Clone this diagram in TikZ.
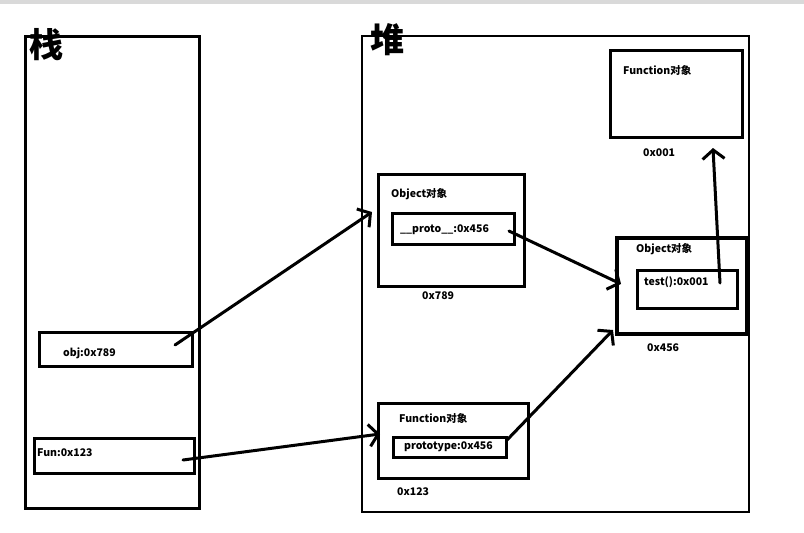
\documentclass[tikz,border=0pt]{standalone}
\usepackage{fontspec}
\setmainfont{Noto Sans CJK SC}
\usetikzlibrary{arrows.meta,calc,positioning}
\tikzset{frame/.style={draw, line width=3pt, anchor=north west, inner sep=0pt, outer sep=0pt},
  txt/.style={font=\bfseries\fontsize{10.5}{12}\selectfont, anchor=west, inner sep=0pt},
  title/.style={font=\bfseries\fontsize{34}{36}\selectfont, inner sep=0pt},
  ptr/.style={line width=3pt, line cap=round, -{Straight Barb[length=9pt,width=22pt]}}}

\begin{document}
\begin{tikzpicture}[x=1pt,y=-1pt]
    \useasboundingbox (0,0) rectangle (804,533);
    \fill[black!15] (0,0) rectangle (804,4);
    % stack
    \node[frame, minimum width=174pt, minimum height=472pt] (stack) at (25,36) {};
    \node[title] (stacklbl) at (46,45) {栈};
    \node[frame, minimum width=153pt, minimum height=34pt] (obj) at (39,332) {};
    \node[txt] (objlbl) at (63,353) {obj:0x789};
    \node[frame, minimum width=160pt, minimum height=35pt] (fun) at (34,438) {};
    \node[txt] (funlbl) at (37,453) {Fun:0x123};
    % heap
    \node[frame, line width=2.6pt, minimum width=387pt, minimum height=476pt] (heap) at (362,36) {};
    \node[title] (heaplbl) at (387,40) {堆};
    \node[frame, minimum width=132pt, minimum height=87pt] (fnobjA) at (610,50) {};
    \node[txt] (fnobjAlbl) at (623,70) {Function对象};
    \node[txt] (fnobjAaddr) at (643,153) {0x001};
    \node[frame, minimum width=146pt, minimum height=112pt] (objA) at (378,174) {};
    \node[txt] (objAlbl) at (391,194) {Object对象};
    \node[frame, minimum width=122pt, minimum height=31pt] (proto) at (392,213) {};
    \node[txt] (protolbl) at (400,230) {\_\_proto\_\_:0x456};
    \node[txt] (objAaddr) at (422,296) {0x789};
    \node[frame, line width=3.5pt, minimum width=130pt, minimum height=96pt] (objB) at (617,238) {};
    \node[txt] (objBlbl) at (636,249) {Object对象};
    \node[frame, minimum width=100pt, minimum height=38pt] (test) at (637,270) {};
    \node[txt] (testlbl) at (644,282) {test():0x001};
    \node[txt] (objBaddr) at (647,348) {0x456};
    \node[frame, minimum width=150pt, minimum height=75pt] (fnobjB) at (378,403) {};
    \node[txt] (fnobjBlbl) at (399,418) {Function对象};
    \node[frame, minimum width=113pt, minimum height=20pt] (prototype) at (393,437) {};
    \node[txt] (prototypelbl) at (404,447) {prototype:0x456};
    \node[txt] (fnobjBaddr) at (397,492) {0x123};
    % pointers
    \draw[ptr] ($(obj.north east)+(-17,13)$) -- ($(objA.north west)+(-6,38)$);
    \draw[ptr] ($(fun.north east)+(-11,22)$) -- ($(fnobjB.north west)+(2,31)$);
    \draw[ptr] ($(proto.north east)+(-5,18)$) -- ($(objB.north west)+(4,46)$);
    \draw[ptr] ($(prototype.north east)+(1,3)$) -- ($(objB.south west)+(-4,-4)$);
    \draw[ptr] ($(test.north east)+(-17,13)$) -- ($(fnobjA.south east)+(-29,11)$);
\end{tikzpicture}
\end{document}
